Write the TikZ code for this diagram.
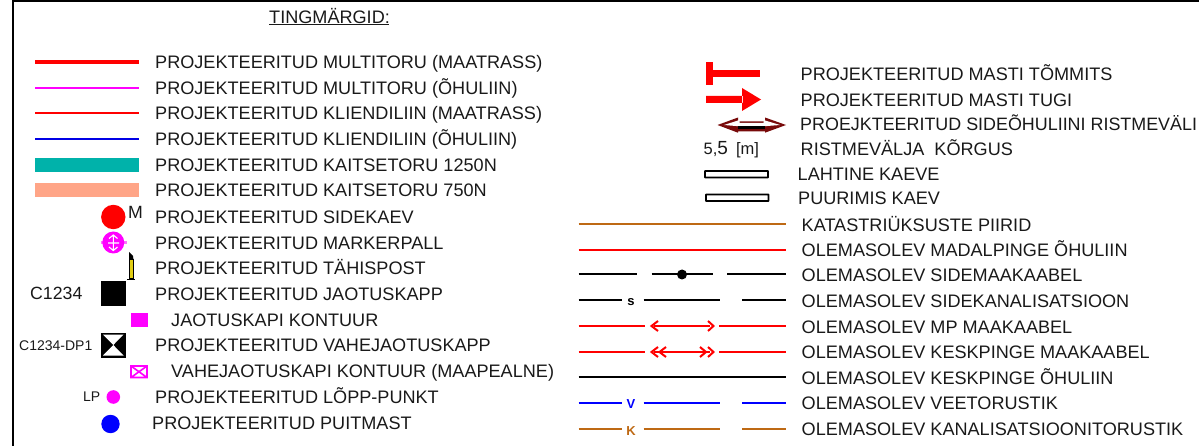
\documentclass[tikz,border=0pt]{standalone}
\usepackage{fontspec}
\setmainfont{Liberation Sans}
\definecolor{teal1}{RGB}{0,178,170}
\definecolor{salmon1}{RGB}{255,165,135}
\definecolor{brown1}{RGB}{190,105,20}
\definecolor{maroon1}{RGB}{120,10,10}
\definecolor{mag1}{RGB}{255,0,255}
\definecolor{yel1}{RGB}{225,205,20}
\tikzset{
  legendtext/.style={anchor=base west,inner sep=0pt,yshift=-0.8pt,font=\fontsize{18.1}{20}\selectfont,text=black!90},
  smalltext/.style={anchor=base west,inner sep=0pt,font=\fontsize{17.7}{20}\selectfont,text=black!90},
  tinytext/.style={anchor=base west,inner sep=0pt,font=\fontsize{14}{16}\selectfont,text=black!90},
  thinline/.style={line width=1.4pt},
  medline/.style={line width=2pt},
  boldline/.style={line width=4pt},
  bandline/.style={line width=14pt},
  ltr/.style={anchor=center,inner sep=0pt,font=\bfseries\fontsize{13}{14}\selectfont},
  trench/.style={draw=black,line width=1.8pt,fill=white,rounded corners=0.5pt},
}
\begin{document}
\begin{tikzpicture}[x=1pt,y=-1pt]
\useasboundingbox (0,0) rectangle (1199,446);
\draw[line width=2.2pt] (13,446) -- (13,0.8) -- (1199,0.8);
\node[legendtext] (title) at (269,23) {TINGMÄRGID:};
\draw[line width=1pt,black!90] (269,25) -- (389,25);
% left lines
\draw[boldline,red] (35,62) -- (139,62);
\draw[medline,mag1] (35,88) -- (139,88);
\draw[thinline,red] (35,113) -- (139,113);
\draw[thinline,blue!90!black] (35,139) -- (139,139);
\draw[bandline,teal1] (35,165) -- (139,165);
\draw[bandline,salmon1] (35,190.5) -- (139,190.5);
% left symbols
\fill[red] (113.3,217) circle (12.2);
\node[smalltext] (mlab) at (128,219) {M};
\fill[mag1!55] (100.5,241.5) rectangle (127,244);
\fill[mag1] (113.3,242.5) circle (11);
\draw[white,line width=1.1pt] (113.3,235.5) -- (113.3,249.5) (108,243) -- (119,243)
  (109,238.5) -- (113.3,235) -- (117.5,238.5) (109,247) -- (113.3,250.5) -- (117.5,247);
\fill[black] (129,252) -- (133,256) -- (133.5,260) -- (129,260) -- cycle;
\fill[black] (128.8,259) rectangle (133.7,279);
\fill[yel1] (130,260) rectangle (132.5,278.5);
\draw[black,line width=0.8pt] (127,279.5) -- (135,279.5);
\node[smalltext] (c1234) at (30,299) {C1234};
\fill[black] (101,281.5) rectangle (126,306);
\fill[mag1] (130.5,313) rectangle (148,327);
\node[tinytext] (c1234dp) at (19,350) {C1234-DP1};
\fill[black] (101,332.5) rectangle (125.5,357.5);
\fill[white] (103,334.5) -- (123.5,334.5) -- (113.3,345) -- cycle;
\fill[white] (103,355.5) -- (123.5,355.5) -- (113.3,345) -- cycle;
\draw[mag1,line width=1.6pt] (131,366) rectangle (147,377.5) (131,366) -- (147,377.5) (147,366) -- (131,377.5);
\node[tinytext] (lplab) at (83,401) {LP};
\fill[mag1] (113.3,397) circle (6.8);
\fill[blue] (110.5,424) circle (9.2);
% left text
\node[legendtext] (l1) at (155,68) {PROJEKTEERITUD MULTITORU (MAATRASS)};
\node[legendtext] (l2) at (155,94) {PROJEKTEERITUD MULTITORU (ÕHULIIN)};
\node[legendtext] (l3) at (155,119) {PROJEKTEERITUD KLIENDILIIN (MAATRASS)};
\node[legendtext] (l4) at (155,145) {PROJEKTEERITUD KLIENDILIIN (ÕHULIIN)};
\node[legendtext] (l5) at (155,171) {PROJEKTEERITUD KAITSETORU 1250N};
\node[legendtext] (l6) at (155,196) {PROJEKTEERITUD KAITSETORU 750N};
\node[legendtext] (l7) at (155,222.5) {PROJEKTEERITUD SIDEKAEV};
\node[legendtext] (l8) at (155,248.5) {PROJEKTEERITUD MARKERPALL};
\node[legendtext] (l9) at (155,274) {PROJEKTEERITUD TÄHISPOST};
\node[legendtext] (l10) at (155,299.5) {PROJEKTEERITUD JAOTUSKAPP};
\node[legendtext] (l11) at (171,325.5) {JAOTUSKAPI KONTUUR};
\node[legendtext] (l12) at (155,351) {PROJEKTEERITUD VAHEJAOTUSKAPP};
\node[legendtext] (l13) at (171,377) {VAHEJAOTUSKAPI KONTUUR (MAAPEALNE)};
\node[legendtext] (l14) at (155,403) {PROJEKTEERITUD LÕPP-PUNKT};
\node[legendtext] (l15) at (152,429) {PROJEKTEERITUD PUITMAST};
% right symbols
\fill[red] (706,62) rectangle (713,85);
\fill[red] (706,70.5) rectangle (760,77);
\fill[red] (706,96) rectangle (743,103) (742,88) -- (761,99.5) -- (742,111) -- cycle;
\fill[maroon1] (717.5,125) -- (738,117.5) -- (738,121.5) -- (765,121.5) -- (765,117.5) -- (786,125) -- (765,132.7) -- (765,131.5) -- (738,131.5) -- (738,132.7) -- cycle;
\fill[white] (724,125) -- (739.5,120) -- (739.5,123) -- (763.5,123) -- (763.5,120) -- (780,125) -- (763.5,126.3) -- (739.5,126.3) -- cycle;
\fill[black] (738,126.5) rectangle (765,128.7);
\node[legendtext,font=\fontsize{16.5}{20}\selectfont] (m55) at (703.5,154) {5,{\fontsize{19}{20}\selectfont 5}\hspace{8pt}[m]};
\draw[trench] (705,171) rectangle (768,177.5);
\draw[trench] (706,194.5) rectangle (768.5,201);
\draw[medline,brown1] (578.5,224) -- (785.5,224);
\draw[medline,red] (578.5,250) -- (785.5,250);
\draw[medline,black] (578.5,274) -- (637,274) (651.5,274) -- (713,274) (727,274) -- (785.5,274);
\fill[black] (682,274.5) circle (5);
\draw[medline,black] (578.5,300) -- (622,300) (643.5,300) -- (720,300) (742,300) -- (785.5,300);
\node[ltr] (sl) at (631,302) {s};
\draw[medline,red] (578.5,326) -- (645,326) (719,326) -- (785.5,326);
\draw[medline,red] (654,326) -- (710,326);
\draw[red,line width=2pt] (658,321) -- (651.5,326) -- (658,331) (708,321) -- (713.5,326) -- (708,331);
\draw[medline,red] (578.5,352) -- (645,352) (719,352) -- (785.5,352);
\draw[medline,red] (654,352) -- (710,352);
\draw[red,line width=2pt] (658,347) -- (651.5,352) -- (658,357) (666,347) -- (659.5,352) -- (666,357) (700,347) -- (706,352) -- (700,357) (708,347) -- (713.5,352) -- (708,357);
\draw[medline,black] (578.5,377) -- (785.5,377);
\draw[medline,blue] (578.5,403) -- (622,403) (643.5,403) -- (720,403) (742,403) -- (785.5,403);
\node[ltr,text=blue] (vl) at (631,404) {V};
\draw[medline,brown1] (578.5,429) -- (622,429) (643.5,429) -- (720,429) (742,429) -- (785.5,429);
\node[ltr,text=brown1] (kl) at (631,431) {K};
% right text
\node[legendtext] (r1) at (800.5,80) {PROJEKTEERITUD MASTI TÕMMITS};
\node[legendtext] (r2) at (800.5,105.5) {PROJEKTEERITUD MASTI TUGI};
\node[legendtext,font=\fontsize{17.9}{20}\selectfont] (r3) at (800,130) {PROEJKTEERITUD SIDEÕHULIINI RISTMEVÄLI};
\node[legendtext] (r4) at (800.5,155) {RISTMEVÄLJA\ \ KÕRGUS};
\node[legendtext] (r5) at (797.5,180) {LAHTINE KAEVE};
\node[legendtext] (r6) at (798,204) {PUURIMIS KAEV};
\node[legendtext] (r7) at (801.5,231) {KATASTRIÜKSUSTE PIIRID};
\node[legendtext] (r8) at (801.5,256) {OLEMASOLEV MADALPINGE ÕHULIIN};
\node[legendtext] (r9) at (801.5,281) {OLEMASOLEV SIDEMAAKAABEL};
\node[legendtext] (r10) at (801.5,307) {OLEMASOLEV SIDEKANALISATSIOON};
\node[legendtext] (r11) at (801.5,333) {OLEMASOLEV MP MAAKAABEL};
\node[legendtext] (r12) at (801.5,358) {OLEMASOLEV KESKPINGE MAAKAABEL};
\node[legendtext] (r13) at (801.5,384) {OLEMASOLEV KESKPINGE ÕHULIIN};
\node[legendtext] (r14) at (801.5,409) {OLEMASOLEV VEETORUSTIK};
\node[legendtext] (r15) at (801.5,435) {OLEMASOLEV KANALISATSIOONITORUSTIK};
\end{tikzpicture}
\end{document}
